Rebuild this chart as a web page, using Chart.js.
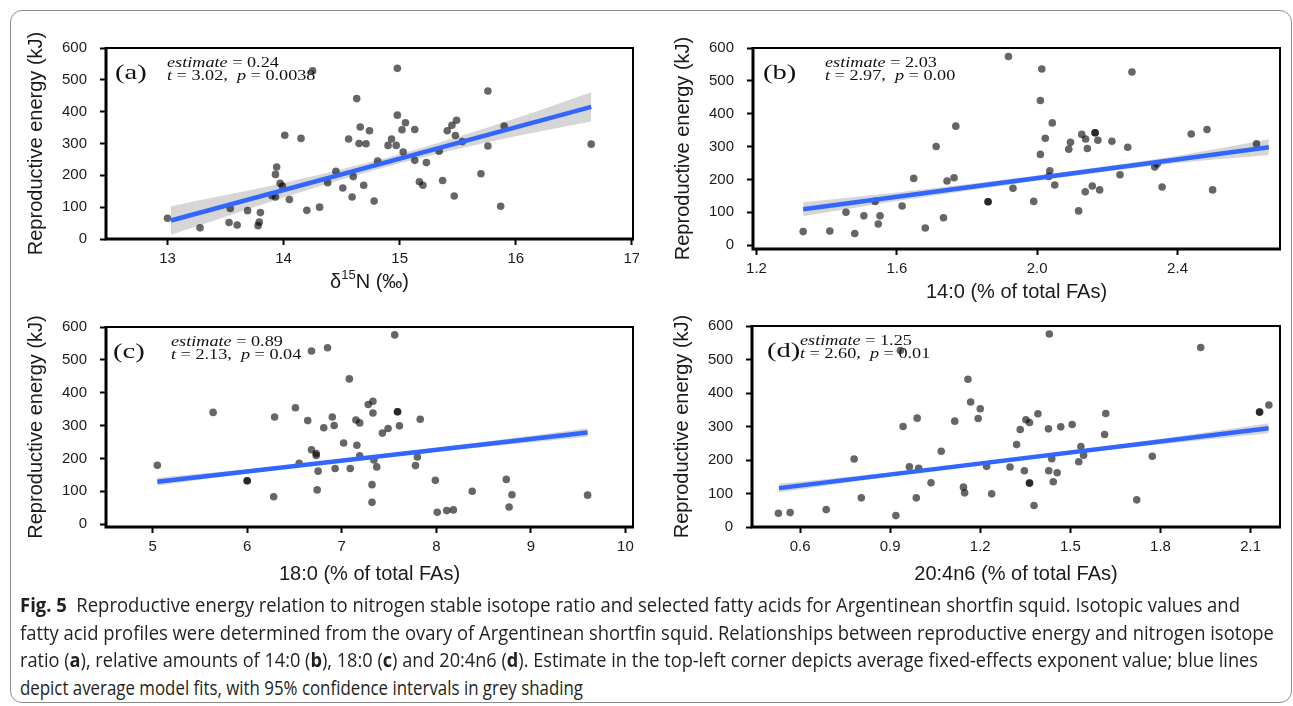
<!DOCTYPE html>
<html>
<head>
<meta charset="utf-8">
<script src="https://cdn.jsdelivr.net/npm/chart.js@4.4.0/dist/chart.umd.min.js"></script>
<style>
body { margin: 0; background: #fff; width: 1293px; height: 706px; overflow: hidden; position: relative; }
.card { position: absolute; left: 10px; top: 10px; width: 1280px; height: 691px; border: 1px solid #8c8c8c; border-radius: 12px; }
canvas { position: absolute; }
.cap { position: absolute; left: 20px; display: inline-block; white-space: nowrap; line-height: 26px;
       font-family: "Liberation Sans Narrow", "Open Sans", sans-serif; font-size: 20px; color: #231f20; transform-origin: 0 50%; }
</style>
</head>
<body>
<div class="card"></div>
<canvas id="panelA" width="623" height="282" style="left:16px;top:18px"></canvas>
<canvas id="panelB" width="623" height="292" style="left:663px;top:18px"></canvas>
<canvas id="panelC" width="623" height="290" style="left:16px;top:302px"></canvas>
<canvas id="panelD" width="624" height="291" style="left:662px;top:301px"></canvas>

<div class="cap" style="top:592px"><b>Fig. 5</b>&nbsp; Reproductive energy relation to nitrogen stable isotope ratio and selected fatty acids for Argentinean shortfin squid. Isotopic values and</div>
<div class="cap" style="top:620px">fatty acid profiles were determined from the ovary of Argentinean shortfin squid. Relationships between reproductive energy and nitrogen isotope</div>
<div class="cap" style="top:647px">ratio (<b>a</b>), relative amounts of 14:0 (<b>b</b>), 18:0 (<b>c</b>) and 20:4n6 (<b>d</b>). Estimate in the top-left corner depicts average fixed-effects exponent value; blue lines</div>
<div class="cap" style="top:675px">depict average model fits, with 95% confidence intervals in grey shading</div>

<script>
// Panel (a): d15N
const aX = [13.0, 13.28, 13.53, 13.54, 13.6, 13.69, 13.78, 13.79, 13.8, 13.9, 13.93, 13.93, 13.94, 13.97, 13.99, 14.01, 14.05, 14.15, 14.2, 14.25, 14.31, 14.38, 14.45, 14.51, 14.56, 14.59, 14.6, 14.63, 14.65, 14.66, 14.69, 14.71, 14.74, 14.78, 14.81, 14.9, 14.93, 14.97, 14.98, 14.98, 15.02, 15.03, 15.05, 15.13, 15.13, 15.17, 15.2, 15.23, 15.34, 15.37, 15.41, 15.45, 15.47, 15.48, 15.49, 15.54, 15.7, 15.76, 15.76, 15.87, 15.9, 16.65];
const aY = [65, 35, 52, 96, 44, 89, 42, 53, 83, 136, 132, 203, 226, 175, 166, 326, 124, 316, 90, 528, 100, 177, 213, 160, 314, 132, 196, 441, 300, 352, 169, 299, 340, 119, 245, 294, 314, 294, 536, 389, 343, 273, 365, 344, 247, 180, 169, 240, 276, 184, 340, 357, 135, 325, 373, 306, 205, 465, 292, 103, 355, 298];
const aFitX = [13.03, 16.65];
const aFitY = [58, 415];
const aBandX = [13.03, 13.5, 14, 14.5, 15, 15.5, 16, 16.65];
const aBandUp = [103, 138, 176, 219, 266, 321, 379, 461];
const aBandLo = [13, 70, 130, 187, 238, 283, 323, 369];
const aTicks = [13, 14, 15, 16, 17];

// Panel (b): 14:0
const bX = [1.333, 1.409, 1.455, 1.48, 1.506, 1.538, 1.547, 1.552, 1.615, 1.648, 1.681, 1.712, 1.733, 1.743, 1.763, 1.768, 1.86, 1.86, 1.918, 1.931, 1.99, 2.009, 2.009, 2.013, 2.023, 2.033, 2.036, 2.043, 2.05, 2.09, 2.095, 2.118, 2.127, 2.137, 2.138, 2.143, 2.157, 2.165, 2.165, 2.173, 2.178, 2.213, 2.236, 2.258, 2.27, 2.335, 2.342, 2.356, 2.439, 2.484, 2.5, 2.625];
const bY = [41, 43, 100, 35, 89, 133, 64, 89, 119, 203, 52, 300, 83, 195, 205, 362, 132, 132, 574, 173, 133, 276, 440, 536, 325, 209, 226, 372, 183, 292, 313, 104, 337, 162, 323, 294, 180, 342, 342, 319, 168, 316, 214, 298, 527, 238, 247, 177, 338, 352, 168, 308];
const bFitX = [1.333, 2.66];
const bFitY = [109, 298];
const bBandX = [1.333, 1.6, 2.0, 2.4, 2.66];
const bBandUp = [130, 160, 212, 272, 322];
const bBandLo = [88, 134, 196, 250, 274];
const bTicks = [1.2, 1.6, 2.0, 2.4];

// Panel (c): 18:0
const cX = [5.05, 5.64, 6.0, 6.0, 6.28, 6.29, 6.51, 6.55, 6.64, 6.68, 6.68, 6.73, 6.73, 6.74, 6.75, 6.81, 6.85, 6.9, 6.92, 6.93, 7.02, 7.08, 7.09, 7.15, 7.16, 7.19, 7.19, 7.28, 7.32, 7.32, 7.33, 7.33, 7.34, 7.37, 7.43, 7.49, 7.56, 7.59, 7.59, 7.61, 7.78, 7.8, 7.83, 7.99, 8.01, 8.11, 8.18, 8.38, 8.74, 8.77, 8.8, 9.6];
const cY = [179, 340, 132, 132, 83, 326, 354, 185, 315, 226, 527, 215, 209, 104, 161, 293, 537, 326, 300, 169, 247, 442, 169, 317, 240, 308, 208, 364, 66, 120, 338, 374, 195, 174, 277, 291, 576, 342, 342, 299, 178, 204, 319, 133, 36, 41, 43, 100, 136, 52, 89, 88];
const cFitX = [5.05, 9.6];
const cFitY = [129, 279];
const cBandX = [5.05, 6, 7, 8, 9.6];
const cBandUp = [141, 167, 198, 232, 292];
const cBandLo = [117, 153, 188, 220, 266];
const cTicks = [5, 6, 7, 8, 9, 10];

// Panel (d): 20:4n6
const dX = [0.528, 0.567, 0.687, 0.78, 0.804, 0.919, 0.934, 0.943, 0.964, 0.987, 0.99, 0.995, 1.036, 1.07, 1.115, 1.144, 1.148, 1.159, 1.168, 1.193, 1.2, 1.221, 1.238, 1.299, 1.321, 1.333, 1.347, 1.352, 1.364, 1.364, 1.364, 1.379, 1.392, 1.427, 1.428, 1.43, 1.438, 1.443, 1.456, 1.468, 1.506, 1.528, 1.535, 1.544, 1.614, 1.618, 1.721, 1.773, 1.934, 2.13, 2.13, 2.161];
const dY = [41, 43, 52, 203, 87, 34, 527, 300, 180, 87, 325, 175, 132, 226, 316, 119, 102, 441, 373, 324, 353, 181, 99, 179, 246, 291, 168, 320, 312, 131, 131, 64, 338, 293, 168, 576, 204, 135, 162, 299, 306, 195, 240, 214, 276, 339, 81, 211, 536, 343, 343, 364];
const dFitX = [0.53, 2.16];
const dFitY = [116, 295];
const dBandX = [0.53, 0.9, 1.3, 1.7, 2.16];
const dBandUp = [129, 163, 205, 251, 310];
const dBandLo = [103, 151, 196, 237, 280];
const dTicks = [0.6, 0.9, 1.2, 1.5, 1.8, 2.1];

const yTicks = [0, 100, 200, 300, 400, 500, 600];
const panelLabels = ['(a)', '(b)', '(c)', '(d)'];
const estimates = ['0.24', '2.03', '0.89', '1.25'];
const tValues = ['3.02', '2.97', '2.13', '2.60'];
const pValues = ['0.0038', '0.00', '0.04', '0.01'];
const yTitle = 'Reproductive energy (kJ)';

const SANS = '"Liberation Sans", Arial, sans-serif';
const SERIF = '"Liberation Serif", "Times New Roman", serif';

function pairs(xs, ys) {
    return xs.map((x, i) => ({ x: x, y: ys[i] }));
}

// Draw a run of text pieces, some italic, stretched sideways like the figure
function drawRuns(ctx, x, y, runs, size) {
    ctx.save();
    ctx.translate(x, y);
    ctx.scale(1.3, 1);
    ctx.fillStyle = '#111';
    ctx.textBaseline = 'alphabetic';
    let cx = 0;
    runs.forEach(r => {
        ctx.font = (r.it ? 'italic ' : '') + size + 'px ' + SERIF;
        ctx.fillText(r.t, cx, 0);
        cx += ctx.measureText(r.t).width;
    });
    ctx.restore();
}

const panelDecor = {
    id: 'panelDecor',
    afterDatasetsDraw(chart, args, opts) {
        const { ctx, chartArea } = chart;
        const { left, top, right, bottom } = chartArea;
        ctx.save();
        ctx.strokeStyle = '#000';
        ctx.lineWidth = 2;
        ctx.strokeRect(left, top, right - left, bottom - top);
        ctx.lineWidth = 3;
        ctx.beginPath();
        ctx.moveTo(left, top - 1);
        ctx.lineTo(left, bottom);
        ctx.lineTo(right + 1, bottom);
        ctx.stroke();
        ctx.restore();

        const i = opts.index;
        drawRuns(ctx, left + opts.labelDx, top + 31, [{ t: panelLabels[i] }], 22);
        drawRuns(ctx, left + opts.textDx, top + 19, [{ t: 'estimate', it: true }, { t: ' = ' + estimates[i] }], 14);
        drawRuns(ctx, left + opts.textDx, top + 32, [{ t: 't', it: true }, { t: ' = ' + tValues[i] + ',  ' }, { t: 'p', it: true }, { t: ' = ' + pValues[i] }], 14);

        // delta 15 N title for panel (a)
        if (opts.isotopeTitle) {
            const cx = (left + right) / 2;
            const y = chart.height - 18;
            ctx.save();
            ctx.fillStyle = '#1a1a1a';
            ctx.textBaseline = 'middle';
            const big = '20px ' + SANS, small = '13px ' + SANS;
            ctx.font = big;
            const w1 = ctx.measureText('\u03b4').width;
            const w3 = ctx.measureText('N (\u2030)').width;
            ctx.font = small;
            const w2 = ctx.measureText('15').width;
            let x = cx - (w1 + w2 + w3) / 2;
            ctx.font = big;
            ctx.fillText('\u03b4', x, y);
            x += w1;
            ctx.font = small;
            ctx.fillText('15', x, y - 7);
            x += w2;
            ctx.font = big;
            ctx.fillText('N (\u2030)', x, y);
            ctx.restore();
        }
    }
};

function buildPanel(p) {
    const canvas = document.getElementById(p.id);
    return new Chart(canvas, {
        type: 'scatter',
        data: {
            datasets: [{
                data: pairs(p.bandX, p.bandUp),
                showLine: true,
                borderWidth: 0,
                borderColor: 'rgba(0,0,0,0)',
                pointRadius: 0,
                cubicInterpolationMode: 'monotone',
                fill: '+1',
                backgroundColor: 'rgba(153,153,153,0.4)',
                order: 3
            }, {
                data: pairs(p.bandX, p.bandLo),
                showLine: true,
                borderWidth: 0,
                borderColor: 'rgba(0,0,0,0)',
                pointRadius: 0,
                cubicInterpolationMode: 'monotone',
                fill: false,
                order: 3
            }, {
                data: pairs(p.x, p.y),
                pointRadius: 3.8,
                backgroundColor: 'rgba(0,0,0,0.6)',
                borderWidth: 0,
                order: 2
            }, {
                data: pairs(p.fitX, p.fitY),
                showLine: true,
                borderColor: '#3366ff',
                borderWidth: 4.5,
                pointRadius: 0,
                order: 1
            }]
        },
        options: {
            responsive: false,
            animation: false,
            devicePixelRatio: 1,
            events: [],
            layout: { autoPadding: false, padding: { top: p.padTop, right: 6, left: 0, bottom: 0 } },
            plugins: {
                legend: { display: false },
                tooltip: { enabled: false },
                panelDecor: { index: p.index, labelDx: p.labelDx, textDx: p.textDx, isotopeTitle: p.isotopeTitle }
            },
            scales: {
                x: {
                    type: 'linear',
                    min: p.xMin,
                    max: p.xMax,
                    afterBuildTicks: s => { s.ticks = p.ticks.map(v => ({ value: v })); },
                    afterFit: s => { s.height = p.xAxisHeight; s.paddingLeft = 0; s.paddingRight = 0; },
                    grid: { drawOnChartArea: false, drawTicks: true, tickLength: 6, tickWidth: 2, color: '#000' },
                    border: { display: false },
                    ticks: {
                        color: '#1a1a1a',
                        font: { family: SANS, size: 15 },
                        padding: 5,
                        maxRotation: 0,
                        autoSkip: false,
                        callback: v => p.decimals ? v.toFixed(1) : String(v)
                    },
                    title: {
                        display: !p.isotopeTitle,
                        text: p.xTitle,
                        color: '#1a1a1a',
                        font: { family: SANS, size: 20 },
                        padding: { top: 0, bottom: 6 }
                    }
                },
                y: {
                    type: 'linear',
                    min: p.yMin,
                    max: 600,
                    afterBuildTicks: s => { s.ticks = yTicks.map(v => ({ value: v })); },
                    afterFit: s => { s.width = 90; s.paddingTop = 0; s.paddingBottom = 0; },
                    grid: { drawOnChartArea: false, drawTicks: true, tickLength: 6, tickWidth: 2, color: '#000' },
                    border: { display: false },
                    ticks: { color: '#1a1a1a', font: { family: SANS, size: 15 }, padding: 13 },
                    title: {
                        display: true,
                        text: yTitle,
                        color: '#1a1a1a',
                        font: { family: SANS, size: 20 },
                        padding: { top: 8, bottom: 0 }
                    }
                }
            }
        },
        plugins: [panelDecor]
    });
}

buildPanel({ id: 'panelA', index: 0, x: aX, y: aY, fitX: aFitX, fitY: aFitY, bandX: aBandX, bandUp: aBandUp, bandLo: aBandLo,
    ticks: aTicks, xMin: 12.47, xMax: 17.01, yMin: 0, decimals: false, xTitle: '', isotopeTitle: true,
    padTop: 30, xAxisHeight: 61, labelDx: 9, textDx: 61 });
buildPanel({ id: 'panelB', index: 1, x: bX, y: bY, fitX: bFitX, fitY: bFitY, bandX: bBandX, bandUp: bBandUp, bandLo: bBandLo,
    ticks: bTicks, xMin: 1.19, xMax: 2.692, yMin: -12, decimals: true, xTitle: '14:0 (% of total FAs)',
    padTop: 30, xAxisHeight: 61, labelDx: 10, textDx: 72 });
buildPanel({ id: 'panelC', index: 2, x: cX, y: cY, fitX: cFitX, fitY: cFitY, bandX: cBandX, bandUp: cBandUp, bandLo: cBandLo,
    ticks: cTicks, xMin: 4.507, xMax: 10.08, yMin: -9, decimals: false, xTitle: '18:0 (% of total FAs)',
    padTop: 25, xAxisHeight: 65, labelDx: 7, textDx: 65 });
buildPanel({ id: 'panelD', index: 3, x: dX, y: dY, fitX: dFitX, fitY: dFitY, bandX: dBandX, bandUp: dBandUp, bandLo: dBandLo,
    ticks: dTicks, xMin: 0.44, xMax: 2.198, yMin: 0, decimals: true, xTitle: '20:4n6 (% of total FAs)',
    padTop: 25, xAxisHeight: 65, labelDx: 15, textDx: 48 });

// Stretch each caption line to the width it has in the figure
const capWidths = [1220, 1254, 1238, 563];
document.querySelectorAll('.cap').forEach((el, i) => {
    const w = el.getBoundingClientRect().width;
    el.style.transform = 'scaleX(' + (capWidths[i] / w).toFixed(4) + ')';
});
</script>
</body>
</html>
